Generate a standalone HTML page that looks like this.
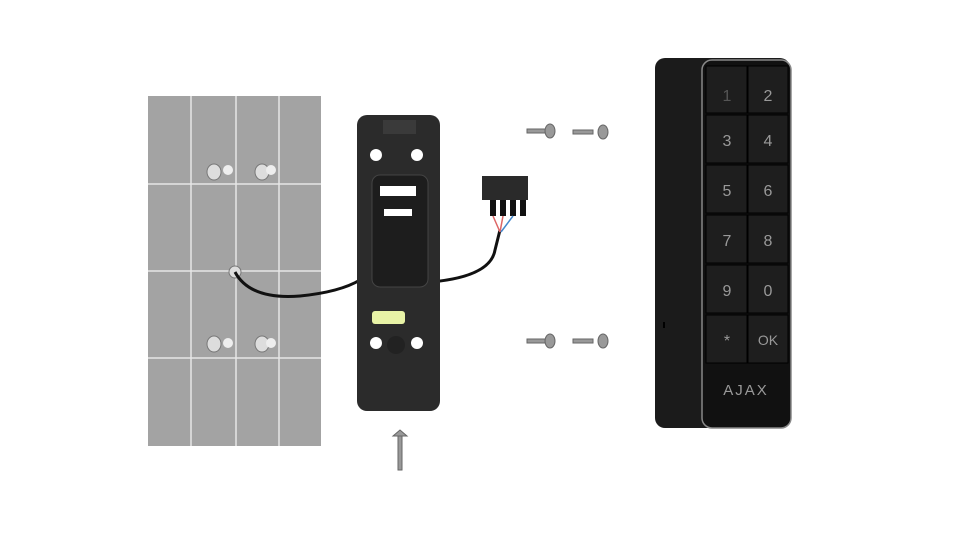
<!DOCTYPE html><html><head><style>body{margin:0;background:#fff}svg{display:block}</style></head><body>
<svg width="960" height="540" viewBox="0 0 960 540" xmlns="http://www.w3.org/2000/svg" font-family="Liberation Sans, sans-serif">
<rect width="960" height="540" fill="#fff"/>
<rect x="148" y="96" width="173" height="350" fill="#a3a3a3"/>
<g stroke="#e6e6e6" stroke-width="1.5">
<line x1="191" y1="96" x2="191" y2="446"/><line x1="236" y1="96" x2="236" y2="446"/><line x1="279" y1="96" x2="279" y2="446"/>
<line x1="148" y1="184" x2="321" y2="184"/><line x1="148" y1="271" x2="321" y2="271"/><line x1="148" y1="358" x2="321" y2="358"/>
</g>
<g fill="#ddd" stroke="#777" stroke-width="1">
<ellipse cx="214" cy="172" rx="7" ry="8"/><ellipse cx="262" cy="172" rx="7" ry="8"/>
<ellipse cx="214" cy="344" rx="7" ry="8"/><ellipse cx="262" cy="344" rx="7" ry="8"/>
<circle cx="235" cy="272" r="6"/>
</g>
<g fill="#eee"><circle cx="228" cy="170" r="5"/><circle cx="271" cy="170" r="5"/><circle cx="228" cy="343" r="5"/><circle cx="271" cy="343" r="5"/></g>
<path d="M235 272 Q250 300 300 296 Q340 292 360 280" stroke="#111" stroke-width="3" fill="none"/>
<path d="M415 283 Q490 280 495 250 L500 230" stroke="#111" stroke-width="3" fill="none"/>
<rect x="357" y="115" width="83" height="296" rx="10" fill="#2b2b2b"/>
<rect x="372" y="175" width="56" height="112" rx="8" fill="#1d1d1d" stroke="#444"/>
<rect x="380" y="186" width="36" height="10" fill="#fff"/>
<rect x="384" y="209" width="28" height="7" fill="#fff"/>
<rect x="383" y="120" width="33" height="14" fill="#3a3a3a"/>
<rect x="372" y="311" width="33" height="13" rx="3" fill="#e8f3a6"/>
<circle cx="376" cy="155" r="6" fill="#fff"/><circle cx="417" cy="155" r="6" fill="#fff"/>
<circle cx="376" cy="343" r="6" fill="#fff"/><circle cx="417" cy="343" r="6" fill="#fff"/>
<circle cx="396" cy="345" r="9" fill="#222"/>
<rect x="482" y="176" width="46" height="24" fill="#2a2a2a"/>
<g fill="#111"><rect x="490" y="200" width="6" height="16"/><rect x="500" y="200" width="6" height="16"/><rect x="510" y="200" width="6" height="16"/><rect x="520" y="200" width="6" height="16"/></g>
<path d="M493 216 L500 232 M503 216 L500 232" stroke="#d66" stroke-width="1.5" fill="none"/>
<path d="M513 216 L501 232" stroke="#48c" stroke-width="1.5"/>
<g fill="#999" stroke="#666">
<rect x="527" y="129" width="20" height="4"/><ellipse cx="550" cy="131" rx="5" ry="7"/>
<rect x="573" y="130" width="20" height="4"/><ellipse cx="603" cy="132" rx="5" ry="7"/>
<rect x="527" y="339" width="20" height="4"/><ellipse cx="550" cy="341" rx="5" ry="7"/>
<rect x="573" y="339" width="20" height="4"/><ellipse cx="603" cy="341" rx="5" ry="7"/>
<rect x="398" y="436" width="4" height="34"/><path d="M393 436 L407 436 L400 430 Z"/>
</g>
<rect x="655" y="58" width="135" height="370" rx="10" fill="#1b1b1b"/>
<rect x="702" y="60" width="89" height="368" rx="10" fill="#111" stroke="#888" stroke-width="1.5"/>
<g fill="#1e1e1e" stroke="#000" stroke-width="1">
<rect x="706" y="66" width="41" height="47"/><rect x="748" y="66" width="40" height="47"/>
<rect x="706" y="115" width="41" height="48"/><rect x="748" y="115" width="40" height="48"/>
<rect x="706" y="165" width="41" height="48"/><rect x="748" y="165" width="40" height="48"/>
<rect x="706" y="215" width="41" height="48"/><rect x="748" y="215" width="40" height="48"/>
<rect x="706" y="265" width="41" height="48"/><rect x="748" y="265" width="40" height="48"/>
<rect x="706" y="315" width="41" height="48"/><rect x="748" y="315" width="40" height="48"/>
</g>
<g fill="#999" font-size="16" text-anchor="middle">
<text x="727" y="101" fill="#555">1</text><text x="768" y="101">2</text>
<text x="727" y="146">3</text><text x="768" y="146">4</text>
<text x="727" y="196">5</text><text x="768" y="196">6</text>
<text x="727" y="246">7</text><text x="768" y="246">8</text>
<text x="727" y="296">9</text><text x="768" y="296">0</text>
<text x="727" y="346">*</text><text x="768" y="345" font-size="14">OK</text>
<text x="746" y="395" font-size="15" letter-spacing="2">AJAX</text>
</g>
<rect x="663" y="322" width="2" height="6" fill="#000"/>
</svg>
</body></html>
